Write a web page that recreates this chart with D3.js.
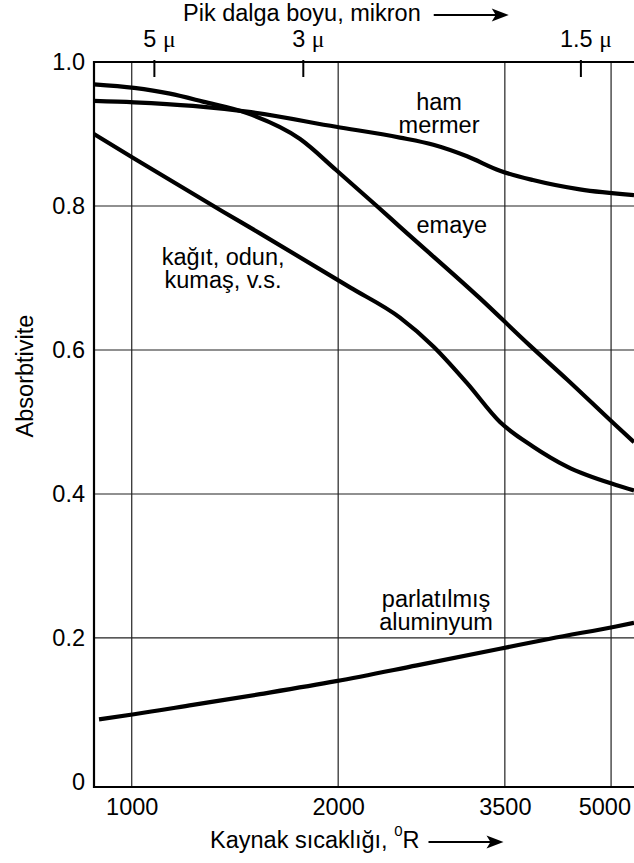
<!DOCTYPE html>
<html>
<head>
<meta charset="utf-8">
<script src="https://cdn.jsdelivr.net/npm/d3@7"></script>
<style>
  body { margin: 0; background: #fff; }
  svg text { font-family: "Liberation Sans", Arial, sans-serif; fill: #000; white-space: pre; }
</style>
</head>
<body>
<div id="chart"></div>
<script>
// bottom axis: source temperature, deg R (log scale)
var xTicks = [1000, 2000, 3500, 5000];
var yTicks = [0, 0.2, 0.4, 0.6, 0.8, 1.0];
var yTickLabels = ["0", "0.2", "0.4", "0.6", "0.8", "1.0"];

// top axis: peak wavelength (micron), placed at the matching temperature
var topTickLabels = ["5", "3", "1.5"];
var topTickTemps = [1079, 1779, 4518];

// curves: temperature / absorptivity
var emayeT = [881, 1008, 1137, 1270, 1472, 1760, 1986, 2277, 2461, 3218, 3808, 4313, 5083, 5400];
var emayeA = [0.969, 0.964, 0.956, 0.945, 0.929, 0.893, 0.850, 0.800, 0.771, 0.672, 0.606, 0.559, 0.495, 0.472];

var mermerT = [881, 1008, 1228, 1472, 1986, 2461, 2753, 3083, 3443, 3845, 4502, 5400];
var mermerA = [0.946, 0.944, 0.939, 0.931, 0.910, 0.895, 0.885, 0.869, 0.849, 0.836, 0.823, 0.815];

var kagitT = [881, 1008, 1359, 1538, 2081, 2461, 2753, 3083, 3443, 3845, 4313, 5083, 5400];
var kagitA = [0.900, 0.866, 0.792, 0.762, 0.687, 0.645, 0.605, 0.554, 0.500, 0.466, 0.438, 0.4125, 0.405];

var aluT = [896, 1008, 1228, 1538, 1986, 2605, 3443, 4073, 5083, 5400];
var aluA = [0.087, 0.094, 0.107, 0.122, 0.140, 0.162, 0.185, 0.199, 0.216, 0.221];

// curve labels
var noteLines = [["ham", "mermer"], ["emaye"], ["kağıt, odun,", "kumaş, v.s."], ["parlatılmış", "aluminyum"]];
var noteTemps = [2806, 2929, 1359, 2778];
var noteVals = [0.933, 0.763, 0.718, 0.2435];

var W = 634, H = 863;
var margin = {top: 62, left: 94, bottom: 787};
var fs = 23.5;

var svg = d3.select("#chart")
  .append("svg")
    .attr("width", W)
    .attr("height", H);

var x = d3.scaleLog()
  .domain([881, 5400])
  .range([margin.left, W]);

var y = d3.scaleLinear()
  .domain([-0.007, 1])
  .range([margin.bottom, margin.top]);

// grid
svg.selectAll(".vgrid")
  .data(xTicks)
  .enter()
  .append("line")
  .attr("x1", d => x(d))
  .attr("x2", d => x(d))
  .attr("y1", y(1))
  .attr("y2", y.range()[0])
  .attr("stroke", "#222")
  .attr("stroke-width", 1.2)

svg.selectAll(".hgrid")
  .data(yTicks.filter(d => d > 0 && d < 1))
  .enter()
  .append("line")
  .attr("x1", margin.left)
  .attr("x2", W)
  .attr("y1", d => y(d))
  .attr("y2", d => y(d))
  .attr("stroke", "#222")
  .attr("stroke-width", 1.2)

// frame (left, top, bottom)
svg.append("path")
  .attr("d", "M" + W + "," + y(1) + "H" + margin.left + "V" + y.range()[0] + "H" + W)
  .attr("fill", "none")
  .attr("stroke", "#000")
  .attr("stroke-width", 2.2)

// axes, labels only
var gx = svg.append("g")
  .attr("transform", "translate(0," + y.range()[0] + ")")
  .call(d3.axisBottom(x).tickValues(xTicks).tickFormat(d3.format("d")).tickSize(0).tickPadding(11))
gx.select(".domain").remove()
gx.selectAll("text").attr("font-size", fs)
// keep the last label inside the page
gx.selectAll("text").each(function() {
  var b = this.getBBox(), px = +d3.select(this.parentNode).attr("transform").match(/translate\(([\d.]+)/)[1]
  if (px + b.x + b.width > W - 3) d3.select(this).attr("x", W - 3 - px - b.width - b.x)
})

var gy = svg.append("g")
  .attr("transform", "translate(" + margin.left + ",0)")
  .call(d3.axisLeft(y).tickValues(yTicks).tickFormat((d, i) => yTickLabels[i]).tickSize(0).tickPadding(9))
gy.select(".domain").remove()
gy.selectAll("text").attr("font-size", fs)

// top wavelength ticks
svg.selectAll(".topTick")
  .data(topTickTemps)
  .enter()
  .append("line")
  .attr("x1", d => x(d))
  .attr("x2", d => x(d))
  .attr("y1", y(1) - 2)
  .attr("y2", y(1) + 15)
  .attr("stroke", "#000")
  .attr("stroke-width", 2)

var topLab = svg.selectAll(".topLab")
  .data(topTickTemps)
  .enter()
  .append("text")
  .attr("x", d => x(d) + 5)
  .attr("y", 47)
  .attr("text-anchor", "middle")
  .attr("font-size", fs)
topLab.append("tspan").text((d, i) => topTickLabels[i] + " ")
topLab.append("tspan")
  .style("font-family", "'Liberation Serif', 'DejaVu Serif', serif")
  .text("\u03bc")

// curves
var line = d3.line()
  .x(d => x(d[0]))
  .y(d => y(d[1]))
  .curve(d3.curveMonotoneX)

var curves = [
  d3.zip(emayeT, emayeA),
  d3.zip(mermerT, mermerA),
  d3.zip(kagitT, kagitA),
  d3.zip(aluT, aluA)
]

svg.selectAll(".curve")
  .data(curves)
  .enter()
  .append("path")
  .attr("d", line)
  .attr("fill", "none")
  .attr("stroke", "#000")
  .attr("stroke-width", 4.2)

// curve labels
var notes = svg.selectAll(".note")
  .data(noteLines)
  .enter()
  .append("text")
  .attr("text-anchor", "middle")
  .attr("font-size", fs)
  .attr("transform", (d, i) => "translate(" + x(noteTemps[i]) + "," + y(noteVals[i]) + ")")
notes.selectAll("tspan")
  .data(d => d)
  .enter()
  .append("tspan")
  .attr("x", 0)
  .attr("y", (d, j) => j * 23)
  .text(d => d)

function arrow(x0, yy) {
  var len = 75
  svg.append("line")
    .attr("x1", x0).attr("x2", x0 + len - 10)
    .attr("y1", yy).attr("y2", yy)
    .attr("stroke", "#000")
    .attr("stroke-width", 2)
  var tip = x0 + len
  svg.append("path")
    .attr("d", "M" + tip + "," + yy + "L" + (tip - 17) + "," + (yy - 6.5) + "L" + (tip - 13) + "," + yy + "L" + (tip - 17) + "," + (yy + 6.5) + "Z")
    .attr("fill", "#000")
}

// titles
var topTitle = svg.append("text")
  .attr("x", 183)
  .attr("y", 21)
  .attr("font-size", fs)
  .text("Pik dalga boyu, mikron")
arrow(183 + topTitle.node().getComputedTextLength() + 13, 15)

var botTitle = svg.append("text")
  .attr("x", 210)
  .attr("y", 848)
  .attr("font-size", fs)
botTitle.append("tspan").text("Kaynak sıcaklığı, ")
botTitle.append("tspan").attr("font-size", 15).attr("dy", -12).text("0")
botTitle.append("tspan").attr("dy", 12).text("R")
arrow(210 + botTitle.node().getComputedTextLength() + 9, 842)

svg.append("text")
  .attr("transform", "translate(33,376) rotate(-90)")
  .attr("text-anchor", "middle")
  .attr("font-size", fs)
  .text("Absorbtivite")
</script>
</body>
</html>
